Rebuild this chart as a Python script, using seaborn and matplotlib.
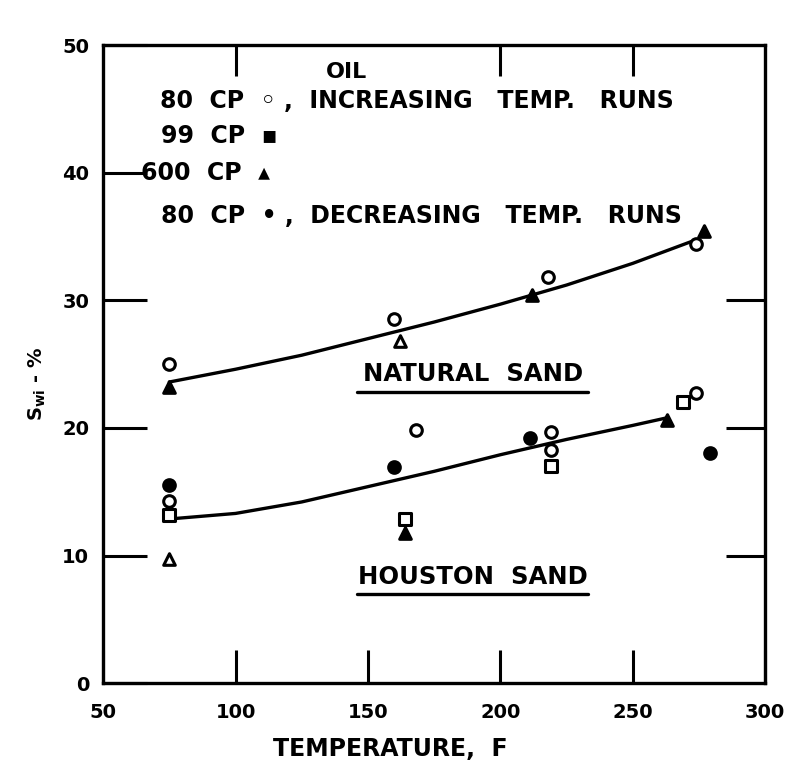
import numpy as np
import pandas as pd
import matplotlib
matplotlib.use("Agg")
import matplotlib.pyplot as plt
import seaborn as sns

# ---- measured points: temperature (F) and Swi (%) ----
# Natural sand
nat_open_circle_T = [75, 160, 218, 274]
nat_open_circle_S = [25.0, 28.5, 31.8, 34.4]
nat_filled_tri_T = [75, 212, 277]
nat_filled_tri_S = [23.2, 30.4, 35.4]
nat_open_tri_T = [162]
nat_open_tri_S = [26.8]

# Houston sand
hou_filled_circle_T = [75, 160, 211, 279]
hou_filled_circle_S = [15.5, 16.9, 19.2, 18.0]
hou_open_circle_T = [75, 168, 219, 219, 274]
hou_open_circle_S = [14.3, 19.8, 19.7, 18.3, 22.7]
hou_open_square_T = [75, 164, 219, 269]
hou_open_square_S = [13.2, 12.9, 17.0, 22.0]
hou_filled_tri_T = [164, 263]
hou_filled_tri_S = [11.8, 20.6]
hou_open_tri_T = [75]
hou_open_tri_S = [9.7]

# hand-drawn trend curves
nat_curve_T = [75, 100, 125, 150, 175, 200, 225, 250, 272]
nat_curve_S = [23.6, 24.6, 25.7, 27.0, 28.3, 29.7, 31.2, 32.9, 34.6]
hou_curve_T = [77, 100, 125, 150, 175, 200, 225, 250, 263]
hou_curve_S = [12.9, 13.3, 14.2, 15.4, 16.6, 17.9, 19.1, 20.2, 20.8]

x_ticks = [50, 100, 150, 200, 250, 300]
y_ticks = [0, 10, 20, 30, 40, 50]
top_ticks = [100, 200, 250]
right_ticks = [10, 20, 30]

legend_title = "OIL"
legend_rows = [
    "80  CP  \u25e6 ,  INCREASING   TEMP.   RUNS",
    "99  CP  \u25aa",
    "600  CP  \u25b4",
    "80  CP  \u2022 ,  DECREASING   TEMP.   RUNS",
]

sns.set_style("white")
plt.rcParams["font.family"] = ["DejaVu Sans"]
plt.rcParams["font.weight"] = "bold"
plt.rcParams["text.color"] = "black"
plt.rcParams["axes.labelcolor"] = "black"
plt.rcParams["xtick.color"] = "black"
plt.rcParams["ytick.color"] = "black"

fig = plt.figure(figsize=(7.93, 7.65), dpi=100)
ax = fig.add_axes([0.130, 0.107, 0.835, 0.834])

groups = [
    (nat_open_circle_T, nat_open_circle_S, "o", "white"),
    (nat_filled_tri_T, nat_filled_tri_S, "^", "black"),
    (nat_open_tri_T, nat_open_tri_S, "^", "white"),
    (hou_filled_circle_T, hou_filled_circle_S, "o", "black"),
    (hou_open_circle_T, hou_open_circle_S, "o", "white"),
    (hou_open_square_T, hou_open_square_S, "s", "white"),
    (hou_filled_tri_T, hou_filled_tri_S, "^", "black"),
    (hou_open_tri_T, hou_open_tri_S, "^", "white"),
]
for T, S, mk, fc in groups:
    df = pd.DataFrame({"T": T, "S": S})
    sns.scatterplot(data=df, x="T", y="S", marker=mk, s=70, color=fc,
                    edgecolor="black", linewidth=2.2, ax=ax, zorder=3)

for T, S in [(nat_curve_T, nat_curve_S), (hou_curve_T, hou_curve_S)]:
    sns.lineplot(x=T, y=S, color="black", linewidth=2.4, ax=ax, zorder=2)

ax.set_xlim(50, 300)
ax.set_ylim(0, 50)
ax.set_xticks(x_ticks)
ax.set_yticks(y_ticks)
ax.set_xticklabels([str(v) for v in x_ticks], fontsize=14, fontweight="bold")
ax.set_yticklabels([str(v) for v in y_ticks], fontsize=14, fontweight="bold")
ax.tick_params(axis="x", direction="in", length=24, width=2.2,
               bottom=True, top=False, pad=14)
ax.tick_params(axis="y", direction="in", length=32, width=2.2,
               left=True, right=False, pad=10)

# ticks on the top and right frame
sec_x = ax.secondary_xaxis("top")
sec_x.set_xticks(top_ticks)
sec_x.set_xticklabels([])
sec_x.tick_params(direction="in", length=22, width=2.2)
sec_x.spines["top"].set_visible(False)
sec_y = ax.secondary_yaxis("right")
sec_y.set_yticks(right_ticks)
sec_y.set_yticklabels([])
sec_y.tick_params(direction="in", length=28, width=2.2)
sec_y.spines["right"].set_visible(False)

for sp in ax.spines.values():
    sp.set_linewidth(2.4)
    sp.set_color("black")

ax.set_xlabel("TEMPERATURE,  F", fontsize=17, fontweight="bold")
ax.xaxis.set_label_coords(0.434, -0.085)
ax.set_ylabel(r"$\mathbf{S_{wi}}$ - %", fontsize=14, fontweight="bold")
ax.yaxis.set_label_coords(-0.083, 0.47)

# legend block written as text
ax.text(142, 47.9, legend_title, fontsize=16, fontweight="bold", ha="center", va="center")
row_y = [45.6, 42.9, 40.0, 36.6]
row_x = [71.5, 72, 64.5, 72]
for x, y, t in zip(row_x, row_y, legend_rows):
    ax.text(x, y, t, fontsize=17, fontweight="bold", ha="left", va="center")

# curve captions with underline
for x, y, t in [(189.5, 24.2, "NATURAL  SAND"), (189.5, 8.3, "HOUSTON  SAND")]:
    ax.text(x, y, t, fontsize=17.5, fontweight="bold", ha="center", va="center")
    ax.plot([x - 43.5, x + 43.5], [y - 1.35, y - 1.35], color="black", linewidth=2.4)

fig.savefig("out.png", dpi=100, facecolor="white")
